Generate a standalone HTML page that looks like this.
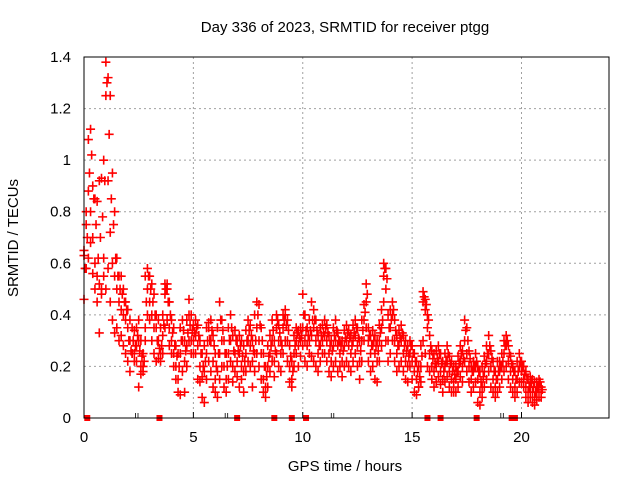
<!DOCTYPE html>
<html><head><meta charset="utf-8"><style>
body{margin:0;background:#fff;}
svg{display:block;font-family:"Liberation Sans",sans-serif;}
</style></head><body>
<svg id="chart" width="640" height="480">
<rect width="640" height="480" fill="#fff"/>
<g id="grid"></g>
<g id="marks"></g>
<g id="axes"></g>
<text x="345" y="32" text-anchor="middle" font-size="15">Day 336 of 2023, SRMTID for receiver ptgg</text>
<text x="345" y="471" text-anchor="middle" font-size="15">GPS time / hours</text>
<text transform="translate(18,238) rotate(-90)" text-anchor="middle" font-size="15">SRMTID / TECUs</text>
</svg>
<script>
const xTicks=[0,5,10,15,20];
const yTicks=[0,0.2,0.4,0.6,0.8,1,1.2,1.4];
const yTickLabels=["0","0.2","0.4","0.6","0.8","1","1.2","1.4"];
const startHour=0, stepHour=0.1;
const seriesA=[.63,.75,.88,.80,.70,.60,.55,.52,.50,.62,
1.25,.92,.72,.60,.55,.50,.45,.42,.40,.38,
.35,.30,.25,.25,.28,.30,.20,.18,.35,.50,
.45,.40,.35,.35,.30,.25,.32,.48,.50,.35,
.30,.25,.20,.15,.25,.30,.22,.28,.40,.30,
.30,.32,.28,.20,.16,.18,.25,.35,.30,.22,
.15,.18,.25,.30,.20,.15,.25,.30,.20,.25,
.22,.25,.20,.18,.25,.30,.28,.22,.25,.35,
.30,.25,.15,.12,.20,.25,.30,.22,.35,.30,
.25,.35,.40,.30,.20,.15,.25,.30,.28,.30,
.35,.30,.28,.30,.32,.35,.30,.25,.28,.30,
.32,.30,.25,.22,.28,.30,.28,.25,.22,.28,
.30,.28,.25,.30,.32,.28,.22,.30,.38,.45,
.30,.25,.28,.25,.22,.30,.35,.55,.50,.30,
.35,.40,.30,.25,.28,.30,.25,.22,.20,.25,
.22,.18,.15,.12,.20,.45,.42,.35,.25,.20,
.18,.20,.22,.18,.15,.20,.22,.18,.15,.14,
.15,.18,.22,.20,.30,.25,.20,.15,.18,.20,
.15,.10,.12,.18,.22,.25,.20,.15,.12,.15,
.18,.20,.25,.28,.22,.18,.15,.12,.15,.20,
.18,.15,.12,.10,.12,.10,.08,.10,.12,.10];
const seriesB=[.65,.80,1.08,1.12,.90,.85,.84,.92,.93,1.0,
1.38,1.32,1.25,.95,.80,.62,.55,.55,.50,.45,
.42,.38,.35,.34,.35,.38,.30,.25,.55,.58,
.55,.52,.48,.40,.38,.35,.40,.52,.52,.45,
.38,.35,.28,.25,.35,.38,.30,.38,.46,.40,
.36,.38,.36,.30,.25,.28,.35,.37,.38,.32,
.25,.35,.45,.38,.30,.25,.35,.40,.32,.34,
.30,.32,.30,.28,.34,.38,.36,.30,.40,.45,
.44,.35,.25,.20,.28,.32,.38,.30,.40,.36,
.30,.40,.42,.38,.28,.22,.32,.35,.34,.35,
.48,.40,.35,.38,.45,.42,.38,.32,.35,.36,
.38,.36,.32,.30,.35,.38,.33,.30,.30,.34,
.36,.34,.32,.36,.38,.35,.30,.38,.44,.52,
.35,.32,.34,.32,.30,.36,.42,.60,.58,.40,
.42,.45,.38,.32,.34,.36,.32,.30,.28,.30,
.28,.25,.22,.20,.28,.49,.46,.40,.32,.26,
.25,.26,.28,.25,.22,.25,.28,.24,.22,.20,
.20,.24,.28,.26,.38,.35,.26,.20,.22,.25,
.20,.18,.20,.24,.28,.32,.26,.22,.18,.22,
.22,.25,.30,.32,.28,.24,.20,.18,.22,.25,
.22,.20,.18,.15,.16,.15,.14,.14,.15,.12];
const seriesC=[.46,.58,.62,.68,.56,.50,.45,.33,.48,.55,
.50,.58,.45,.38,.33,.35,.30,.32,.28,.25,
.22,.18,.25,.22,.22,.12,.17,.20,.30,.40,
.38,.30,.25,.22,.23,.22,.25,.35,.38,.28,
.25,.20,.15,.10,.09,.18,.10,.20,.30,.25,
.25,.25,.15,.14,.08,.06,.15,.22,.18,.12,
.10,.08,.15,.20,.12,.10,.15,.22,.14,.18,
.16,.12,.15,.10,.18,.22,.20,.12,.18,.25,
.20,.15,.10,.08,.12,.18,.22,.16,.25,.20,
.18,.25,.30,.22,.14,.12,.20,.25,.20,.24,
.28,.22,.20,.25,.24,.22,.20,.18,.22,.25,
.25,.22,.18,.16,.20,.22,.18,.20,.16,.20,
.22,.20,.18,.22,.25,.20,.15,.22,.30,.35,
.22,.18,.20,.15,.14,.22,.28,.45,.30,.22,
.25,.30,.22,.18,.20,.22,.18,.15,.14,.20,
.15,.10,.09,.12,.14,.30,.25,.20,.18,.15,
.12,.14,.16,.13,.10,.14,.16,.12,.10,.10,
.10,.12,.16,.14,.22,.18,.14,.10,.12,.14,
.06,.05,.08,.12,.15,.18,.12,.10,.08,.10,
.12,.15,.18,.20,.15,.12,.10,.08,.10,.14,
.14,.12,.08,.06,.08,.06,.05,.07,.08,.08];
const seriesD=[.58,.70,.95,1.02,.85,.75,.62,.70,.78,.92,
1.30,1.10,.85,.75,.62,.55,.50,.48,.45,.42,
.30,.26,.30,.28,.32,.26,.24,.22,.45,.55,
.50,.45,.40,.30,.27,.28,.36,.50,.45,.40,
.33,.28,.24,.20,.30,.34,.26,.33,.36,.34,
.33,.35,.32,.25,.20,.22,.30,.30,.34,.28,
.20,.25,.38,.34,.25,.20,.30,.35,.26,.30,
.26,.28,.24,.22,.30,.34,.32,.26,.30,.40,
.36,.30,.20,.16,.24,.28,.34,.26,.38,.33,
.28,.38,.36,.34,.24,.18,.28,.33,.31,.32,
.40,.34,.32,.34,.38,.38,.34,.28,.32,.33,
.35,.33,.28,.26,.32,.34,.30,.28,.26,.31,
.33,.31,.28,.33,.35,.31,.26,.34,.41,.48,
.32,.28,.30,.28,.26,.33,.38,.58,.54,.35,
.38,.42,.34,.28,.31,.33,.28,.26,.24,.28,
.25,.22,.18,.16,.24,.47,.44,.38,.28,.23,
.21,.23,.25,.21,.18,.22,.25,.21,.18,.17,
.18,.21,.25,.23,.34,.30,.23,.18,.20,.22,
.18,.14,.16,.21,.25,.28,.23,.18,.15,.18,
.20,.22,.28,.30,.25,.21,.18,.15,.18,.22,
.20,.17,.15,.12,.14,.12,.10,.12,.14,.11];
const zeroFlagHours=[0.15,3.45,7.0,8.7,9.5,10.15,15.7,16.3,17.95,19.55,19.7];
const dualTickHours=[2.4,6.5,11.35,19.1];

const L=84,R=609,T=57,B=418, XMAX=24, YMAX=1.4;
const NS="http://www.w3.org/2000/svg";
function xs(h){return L+(h/XMAX)*(R-L);}
function ys(v){return B-(v/YMAX)*(B-T);}
function mk(tag,attrs,parent){const e=document.createElementNS(NS,tag);for(const k in attrs)e.setAttribute(k,attrs[k]);parent.appendChild(e);return e;}
const grid=document.getElementById('grid'),axes=document.getElementById('axes'),marks=document.getElementById('marks');
xTicks.forEach((t,i)=>{
  const x=xs(t);
  if(t>0){const g=mk('line',{x1:x,x2:x,y1:T,y2:B,stroke:'#a0a0a0','stroke-dasharray':'2,3','stroke-width':1},grid);
  
  }
  const tk=mk('line',{x1:x,x2:x,y1:B,y2:B-6,stroke:'#000'},axes);
  
  
  const lb=mk('text',{x:x,y:B+24,'text-anchor':'middle','font-size':15},axes);lb.textContent=String(t);
  
  
});
yTicks.forEach((t,i)=>{
  const y=ys(t);
  if(t>0&&t<YMAX){const g=mk('line',{x1:L,x2:R,y1:y,y2:y,stroke:'#a0a0a0','stroke-dasharray':'2,3','stroke-width':1},grid);
  
  }
  const lb=mk('text',{x:L-13,y:y+5,'text-anchor':'end','font-size':15},axes);lb.textContent=yTickLabels[i];
  
  
});
const frame=mk('rect',{x:L,y:T,width:R-L,height:B-T,fill:'none',stroke:'#000','stroke-width':1},axes);


[seriesA,seriesB,seriesC,seriesD].forEach((ser,si)=>{
  ser.forEach((v,i)=>{
    const h=startHour+(i+(si===3?0.5:0))*stepHour;
    const x=xs(h),y=ys(v);
    const p=mk('path',{d:`M${x-4.5},${y}H${x+4.5}M${x},${y-4.5}V${y+4.5}`,stroke:'#ff0000','stroke-width':1.6,fill:'none'},marks);
    
    
  });
});
zeroFlagHours.forEach(h=>{
  const r=mk('rect',{x:xs(h)-3,y:B-3,width:6,height:6,fill:'#ff0000'},marks);
  
  
});
dualTickHours.forEach(h=>{
  const x=xs(h);
  const p=mk('path',{d:`M${x-1},${B-5}V${B}M${x+1.5},${B-5}V${B}`,stroke:'#000','stroke-width':0.8},axes);
  
  
});
</script>
</body></html>
